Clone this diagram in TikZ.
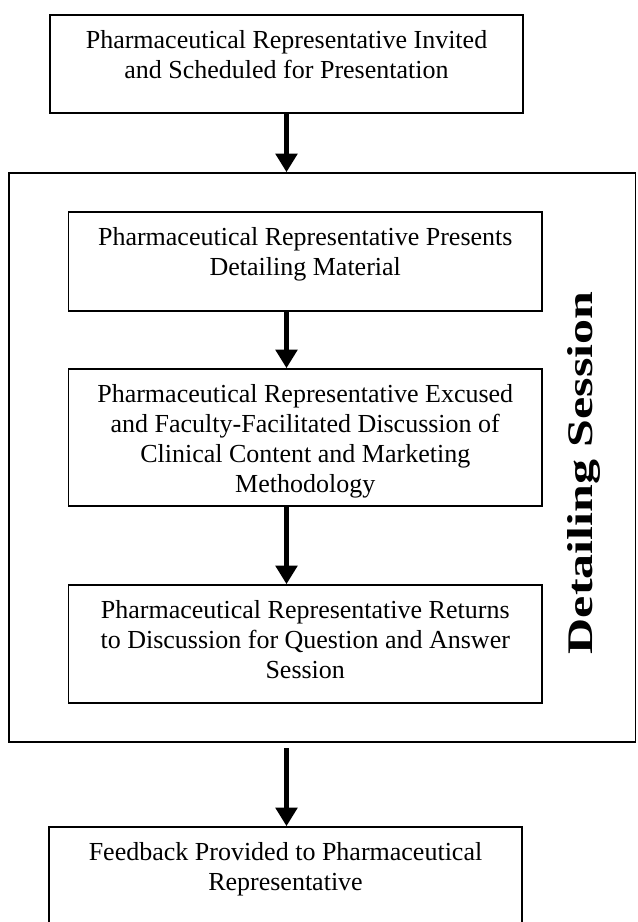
\documentclass[tikz,border=0pt]{standalone}
\usepackage{fontspec}
\setmainfont{Liberation Serif}
\usetikzlibrary{arrows.meta,fit}
\begin{document}
\begin{tikzpicture}[x=0.75pt,y=-0.75pt,
  box/.style={draw, line width=1.2pt, inner sep=0pt},
  txt/.style={align=center, font=\fontsize{19.5}{22.5}\selectfont, inner sep=0pt, anchor=north},
  sidelabel/.style={rotate=90, inner sep=0pt, font=\bfseries\fontsize{37.5}{40}\selectfont},
  arr/.style={line width=3.8pt, -{Triangle[width=16pt,length=14pt]}}]
\clip (0,0) rectangle (637,922);
% outer group
\node[box, fit={(9,173)(635.5,742)}] (outer) {};
\node[sidelabel] (ds) at (584,473) {\scalebox{1}[0.72]{Detailing Session}};
% boxes
\node[box, fit={(50,15)(523,113)}] (b1) {};
\node[txt] (t1) at ([yshift=-12pt]b1.north) {Pharmaceutical Representative Invited\\and Scheduled for Presentation};
\node[box, fit={(68.5,212)(542,311)}] (b2) {};
\node[txt] (t2) at ([yshift=-12pt]b2.north) {Pharmaceutical Representative Presents\\Detailing Material};
\node[box, fit={(68.5,369)(542,506)}] (b3) {};
\node[txt] (t3) at ([yshift=-12pt]b3.north) {Pharmaceutical Representative Excused\\and Faculty-Facilitated Discussion of\\Clinical Content and Marketing\\Methodology};
\node[box, fit={(68.5,585)(542,703)}] (b4) {};
\node[txt] (t4) at ([yshift=-12pt]b4.north) {Pharmaceutical Representative Returns\\to Discussion for Question and Answer\\Session};
\node[box, fit={(49,827)(522,930)}] (b5) {};
\node[txt] (t5) at ([yshift=-12pt]b5.north) {Feedback Provided to Pharmaceutical\\Representative};
% arrows
\draw[arr] (b1.south) -- (b1.south |- outer.north);
\draw[arr] (b2.south -| b1.south) -- (b3.north -| b1.south);
\draw[arr] (b3.south -| b1.south) -- (b4.north -| b1.south);
\draw[arr] ([yshift=-4pt]outer.south -| b1.south) -- (b5.north -| b1.south);
\end{tikzpicture}
\end{document}
